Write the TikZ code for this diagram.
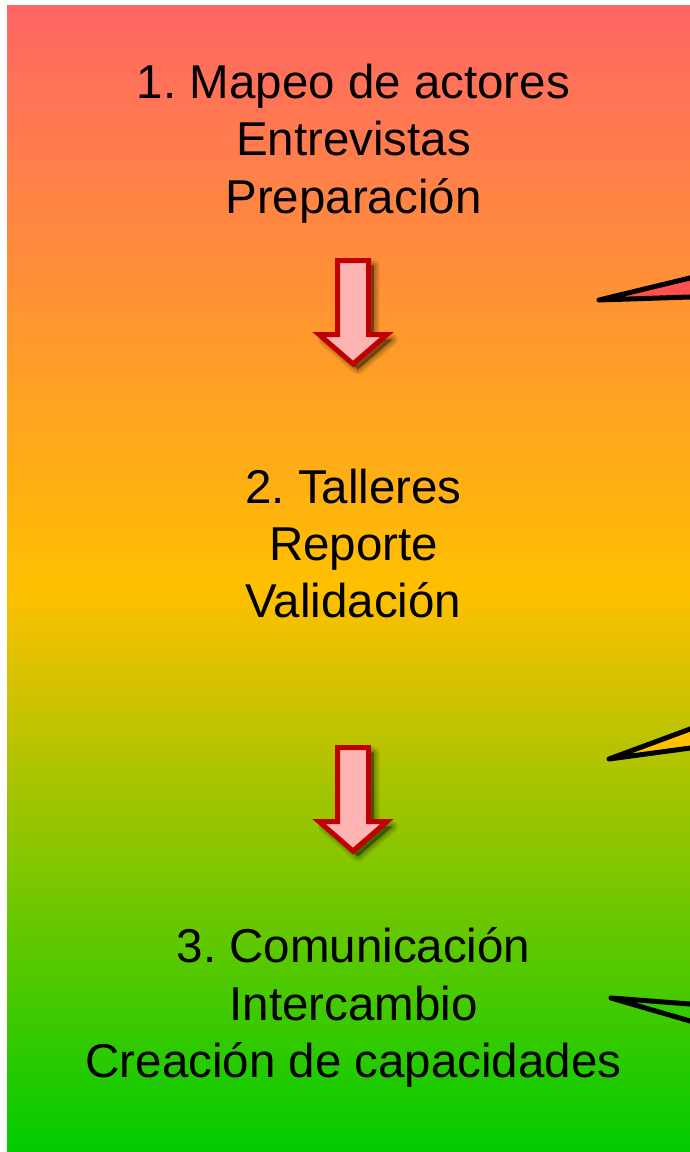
\documentclass[tikz,border=0pt]{standalone}
\usepackage{fontspec}
\setmainfont{Liberation Sans}
\frenchspacing
\begin{document}
\begin{tikzpicture}[x=1pt,y=-1pt,
  lbl/.style={anchor=base, inner sep=0pt, font=\frenchspacing\fontsize{47.5}{57.5}\selectfont, text=black},
  callout/.style={draw=black, line width=5pt, line join=round},
  arrowpath/.style={draw=arrowred, fill=arrowpink, line width=5pt, line join=miter},
  downarrow/.pic={
    \foreach \w/\o in {12/0.07,9/0.08,6/0.09,3/0.10,0.5/0.12}{
      \draw[black, opacity=\o, line width=\w pt, line join=round, fill=black]
        (20.5,7.5) -- (20.5,81.5) -- (39,81.5) -- (5,111) -- (-29,81.5) -- (-10.5,81.5) -- (-10.5,7.5) -- cycle;
    }
    \draw[arrowpath]
      (15.5,2.5) -- (15.5,76.5) -- (34,76.5) -- (0,106) -- (-34,76.5) -- (-15.5,76.5) -- (-15.5,2.5) -- cycle;
  }]
\definecolor{bgred}{RGB}{255,102,102}
\definecolor{bgyellow}{RGB}{255,192,0}
\definecolor{bggreen}{RGB}{0,204,0}
\definecolor{arrowred}{RGB}{192,0,0}
\definecolor{arrowpink}{RGB}{255,180,180}
\definecolor{cred}{RGB}{255,80,80}
\definecolor{cyellow}{RGB}{255,192,0}
\definecolor{cgreen}{RGB}{51,204,0}
\useasboundingbox (0,0) rectangle (690,1152);
\begin{scope}
\clip (0,0) rectangle (690,1152);
% background gradient
\shade[top color=bgred, bottom color=bgyellow] (7,5) rectangle (690,590.5);
\shade[top color=bgyellow, bottom color=bggreen] (7,590) rectangle (690,1152);
% callout pointers
\draw[callout, fill=cred] (599,300) -- (720,270.7) -- (720,296) -- cycle;
\draw[callout, fill=cyellow] (609,759) -- (720,718) -- (720,744) -- cycle;
\draw[callout, fill=cgreen] (611,998) -- (720,1006.3) -- (720,1029.7) -- cycle;
\end{scope}
% arrows
\pic at (353,258) {downarrow};
\pic at (353,745) {downarrow};
% texts
\node[lbl] (t1a) at (353.5,98) {1. Mapeo de actores};
\node[lbl] (t1b) at (353.5,155.5) {Entrevistas};
\node[lbl] (t1c) at (353.5,213) {Preparación};
\node[lbl] (t2a) at (353.5,503) {2. Talleres};
\node[lbl] (t2b) at (353.5,560) {Reporte};
\node[lbl] (t2c) at (353.5,617) {Validación};
\node[lbl] (t3a) at (353.5,962) {3. Comunicación};
\node[lbl] (t3b) at (353.5,1020) {Intercambio};
\node[lbl] (t3c) at (353.5,1077) {Creación de capacidades};
\end{tikzpicture}
\end{document}
